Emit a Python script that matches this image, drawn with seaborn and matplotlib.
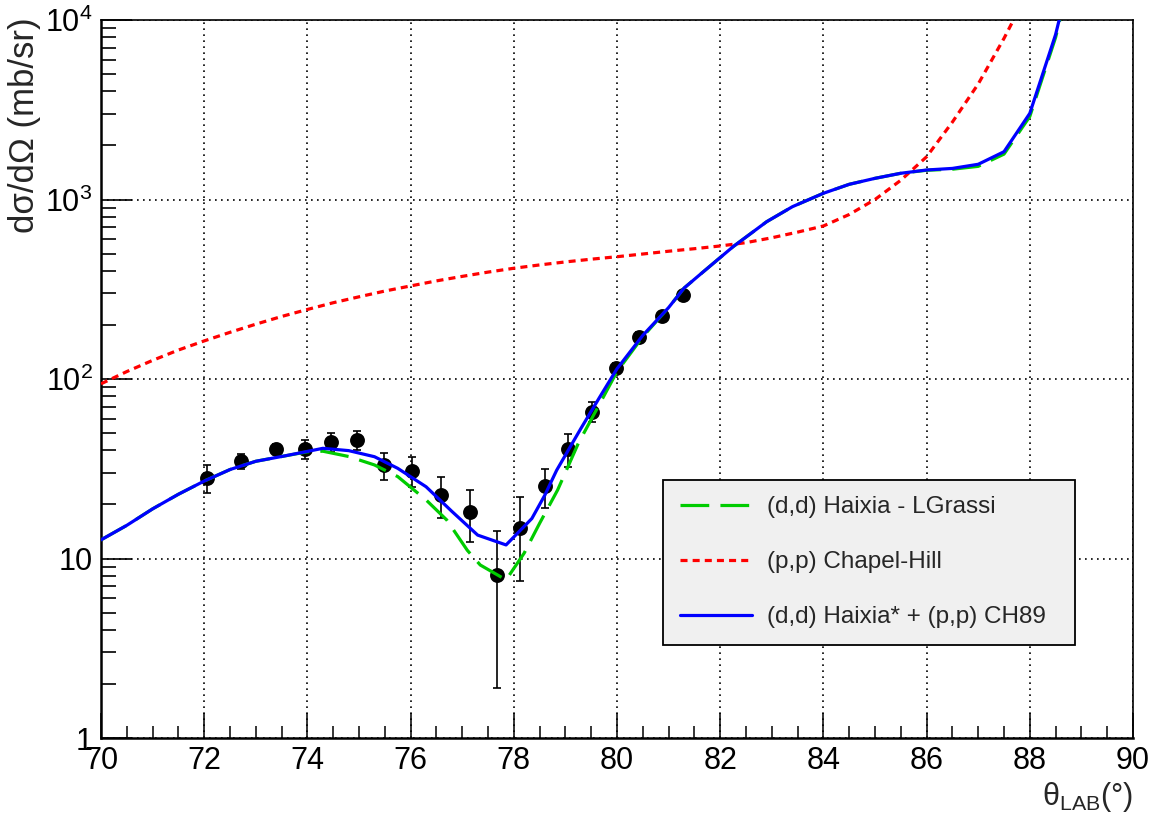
import numpy as np
import pandas as pd
import matplotlib
matplotlib.use("Agg")
import matplotlib.pyplot as plt
from matplotlib.ticker import FixedLocator, FixedFormatter, MultipleLocator, LogLocator, NullFormatter
import seaborn as sns

# measured points (theta_lab in deg, dsigma/dOmega in mb/sr)
data_theta = [72.05, 72.71, 73.39, 73.95, 74.46, 74.97, 75.48, 76.03, 76.58, 77.15,
              77.67, 78.12, 78.60, 79.06, 79.51, 79.98, 80.43, 80.87, 81.27]
data_xs = [28.1, 34.9, 40.7, 40.7, 44.6, 45.9, 33.2, 30.8, 22.6, 18.2,
           8.1, 14.8, 25.4, 40.7, 65.8, 114.7, 172.0, 225.0, 294.0]
data_err = [5.0, 3.3, 2.5, 4.8, 5.3, 5.5, 5.7, 5.9, 5.8, 5.9,
            6.2, 7.3, 6.3, 8.4, 8.5, 8.0, 10.0, 12.0, 14.0]

# (d,d) Haixia* + (p,p) CH89
blue_theta = [70.0, 70.5, 71.0, 71.5, 72.0, 72.5, 73.0, 73.5, 74.0, 74.3, 74.8, 75.3,
              75.75, 76.3, 76.8, 77.3, 77.85, 78.35, 78.6, 78.83, 79.3, 79.67, 80.0,
              80.5, 81.0, 81.3, 81.6, 82.25, 82.9, 83.4, 84.0, 84.5, 85.0, 85.5, 86.0,
              86.5, 87.0, 87.5, 88.0, 88.5, 89.0]
blue_xs = [12.7, 15.3, 18.9, 22.8, 27.0, 31.3, 34.8, 37.0, 39.5, 41.1, 39.9, 36.9,
           31.8, 25.1, 18.3, 13.5, 11.9, 16.7, 22.5, 31.0, 53.0, 79.7, 114.0,
           175.0, 250.0, 321.0, 380.0, 546.0, 752.0, 912.0, 1083.0, 1215.0, 1312.0, 1400.0, 1460.0,
           1490.0, 1571.0, 1846.0, 3020.0, 8300.0, 32000.0]

# (d,d) Haixia - LGrassi
green_theta = [70.0, 70.5, 71.0, 71.5, 72.0, 72.5, 73.0, 73.5, 74.0, 74.3, 74.8, 75.3,
               75.75, 76.3, 76.7, 77.1, 77.35, 77.85, 78.2, 78.5, 78.85, 79.25, 79.7, 80.0,
               80.5, 81.0, 81.3, 81.6, 82.25, 82.9, 83.4, 84.0, 84.5, 85.0, 85.5, 86.0,
               86.5, 87.0, 87.5, 88.0, 88.5, 89.0]
green_xs = [12.7, 15.3, 18.9, 22.8, 27.0, 31.3, 34.8, 37.0, 39.3, 39.6, 37.0, 33.2,
            28.6, 21.2, 16.4, 11.1, 9.2, 7.6, 10.7, 15.7, 24.1, 43.8, 76.0, 110.0,
            172.0, 250.0, 321.0, 380.0, 546.0, 752.0, 912.0, 1083.0, 1215.0, 1312.0, 1400.0, 1455.0,
            1475.0, 1530.0, 1790.0, 2900.0, 8000.0, 31000.0]

# (p,p) Chapel-Hill
red_theta = [70.0, 70.5, 71.0, 71.5, 72.0, 72.5, 73.0, 73.5, 74.0, 74.5, 75.0, 75.5,
             76.0, 76.5, 77.0, 77.5, 78.0, 78.5, 79.0, 79.5, 80.0, 80.5, 81.0, 81.5,
             82.0, 82.5, 83.0, 83.5, 84.0, 84.5, 85.0, 85.5, 86.0, 86.5, 87.0, 87.5, 88.0]
red_xs = [94.0, 110.0, 127.0, 145.0, 163.0, 182.0, 202.0, 223.0, 244.0, 266.0, 287.0, 309.0,
          330.0, 352.0, 373.0, 394.0, 414.0, 432.0, 449.0, 465.0, 480.0, 497.0, 515.0, 532.0,
          551.0, 575.0, 612.0, 658.0, 712.0, 825.0, 1000.0, 1280.0, 1730.0, 2700.0, 4400.0, 7900.0, 15000.0]

y_ticks = [1, 10, 100, 1000, 10000]
y_ticklabels = ["1", "10", r"$\mathregular{10^{2}}$", r"$\mathregular{10^{3}}$", r"$\mathregular{10^{4}}$"]
x_ticks = [70, 72, 74, 76, 78, 80, 82, 84, 86, 88, 90]

sns.set_theme(style="white")
plt.rcParams["font.family"] = ["Liberation Sans", "DejaVu Sans"]
plt.rcParams["mathtext.fontset"] = "custom"
plt.rcParams["mathtext.rm"] = "Liberation Sans"
plt.rcParams["mathtext.it"] = "Liberation Sans:italic"

fig = plt.figure(figsize=(11.58, 8.18), dpi=100)
ax = fig.add_axes([101 / 1158, 1 - 738 / 818, 1032 / 1158, 718 / 818])

df_data = pd.DataFrame({"theta": data_theta, "xs": data_xs, "err": data_err})
df_blue = pd.DataFrame({"theta": blue_theta, "xs": blue_xs})
df_green = pd.DataFrame({"theta": green_theta, "xs": green_xs})
df_red = pd.DataFrame({"theta": red_theta, "xs": red_xs})

# data with error bars (below the curves)
ax.errorbar(df_data["theta"], df_data["xs"], yerr=df_data["err"], fmt="none",
            ecolor="black", elinewidth=1.2, capsize=3, capthick=1.2, zorder=2.5)
sns.scatterplot(data=df_data, x="theta", y="xs", ax=ax, color="black", s=115,
                linewidth=0, zorder=2.6, legend=False)

sns.lineplot(data=df_green, x="theta", y="xs", ax=ax, color="#00cc00", lw=2.3,
             estimator=None, sort=False, label="(d,d) Haixia - LGrassi", zorder=3)
ax.lines[-1].set_dashes((9, 3.5))
sns.lineplot(data=df_red, x="theta", y="xs", ax=ax, color="#ff0000", lw=2.3,
             estimator=None, sort=False, label="(p,p) Chapel-Hill", zorder=3.1)
ax.lines[-1].set_dashes((2.2, 1.6))
sns.lineplot(data=df_blue, x="theta", y="xs", ax=ax, color="#0000ff", lw=2.3,
             estimator=None, sort=False, label="(d,d) Haixia* + (p,p) CH89", zorder=3.2)

ax.set_yscale("log")
ax.set_xlim(70, 90)
ax.set_ylim(1, 10000)

ax.xaxis.set_major_locator(FixedLocator(x_ticks))
ax.xaxis.set_minor_locator(MultipleLocator(0.5))
ax.yaxis.set_major_locator(FixedLocator(y_ticks))
ax.yaxis.set_major_formatter(FixedFormatter(y_ticklabels))
ax.yaxis.set_minor_locator(LogLocator(base=10, subs=np.arange(2, 10)))
ax.yaxis.set_minor_formatter(NullFormatter())

ax.tick_params(axis="both", which="both", direction="in", colors="black", labelsize=22)
ax.tick_params(axis="x", which="major", length=18, width=1.1, pad=6, bottom=True, top=False)
ax.tick_params(axis="x", which="minor", length=9, width=1.1, bottom=True, top=False)
ax.tick_params(axis="y", which="major", length=22, width=1.2, pad=6, left=True, right=False)
ax.tick_params(axis="y", which="minor", length=11, width=1.2, left=True, right=False)

ax.grid(True, which="major", color="black", linestyle=(0, (1, 2.6)), linewidth=1.2)

for side in ["left", "bottom"]:
    ax.spines[side].set_linewidth(1.8)
for side in ["top", "right"]:
    ax.spines[side].set_linewidth(1.2)
for side in ax.spines:
    ax.spines[side].set_color("black")

ax.set_ylabel("dσ/dΩ (mb/sr)", fontsize=25, loc="top")
ax.yaxis.set_label_coords(-0.058, 1.003)
ax.set_xlabel(r"$\mathregular{\theta_{LAB}}$(°)", fontsize=22, loc="right", labelpad=3)

leg = ax.legend(loc="upper left", bbox_to_anchor=(0.5447, 0.360, 0.3988, 0.0),
                mode="expand", fontsize=17.5, frameon=True, fancybox=False,
                edgecolor="black", facecolor="#f0f0f0", framealpha=1,
                handlelength=2.96, handletextpad=0.62, labelspacing=1.36,
                borderpad=0.69, borderaxespad=0)
leg.get_frame().set_linewidth(1.3)

fig.savefig("out.png", dpi=100)
